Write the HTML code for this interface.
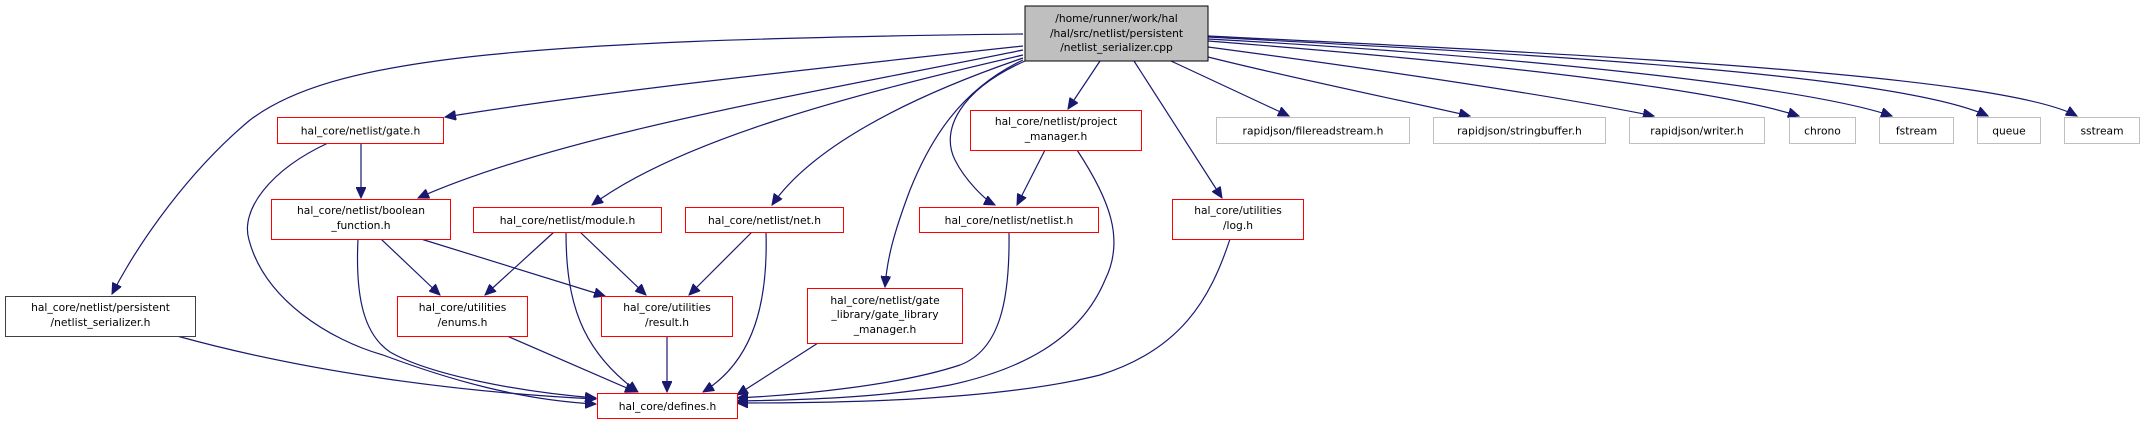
<!DOCTYPE html>
<html><head><meta charset="utf-8"><style>
html,body{margin:0;padding:0;background:#fff}
svg{display:block}
text{font-family:"DejaVu Sans","Liberation Sans",sans-serif;font-size:10.7px;fill:#000;text-anchor:middle}
.e{fill:none;stroke:#191970;stroke-width:1.2}
.r{fill:#fff;stroke:#ff0000;stroke-width:1}
.g{fill:#fff;stroke:#bfbfbf;stroke-width:1}
.k{fill:#fff;stroke:#404040;stroke-width:1}
</style></head><body>
<svg width="2145" height="424" viewBox="0 0 2145 424" xmlns="http://www.w3.org/2000/svg">
<defs>
<marker id="a" markerUnits="userSpaceOnUse" markerWidth="12" markerHeight="10" refX="11" refY="5" orient="auto">
<path d="M0,0 L11,5 L0,10 Z" fill="#191970" stroke="#191970"/>
</marker>
</defs>
<g marker-end="url(#a)">
<path class="e" d="M1023,34 C500,40 330,60 250,120 C190,170 140,240 112,294"/>
<path class="e" d="M1023,46 C800,70 600,92 445,117"/>
<path class="e" d="M1023,50 C800,95 560,135 418,198"/>
<path class="e" d="M1023,55 C850,95 680,140 592,205"/>
<path class="e" d="M1023,58 C900,100 810,150 772,205"/>
<path class="e" d="M1023,60 C960,90 930,140 910,190 C893,235 887,260 885,287"/>
<path class="e" d="M1025,61 C960,90 940,130 955,160 C965,180 985,200 995,205"/>
<path class="e" d="M1100,61 L1068,109"/>
<path class="e" d="M1134,61 L1222,198"/>
<path class="e" d="M1171,61 L1289,116"/>
<path class="e" d="M1208,57 C1300,80 1400,100 1470,116"/>
<path class="e" d="M1208,47 C1380,70 1550,95 1654,116"/>
<path class="e" d="M1208,41 C1450,60 1700,85 1799,116"/>
<path class="e" d="M1208,39 C1500,55 1800,85 1892,116"/>
<path class="e" d="M1208,37 C1550,55 1900,75 1988,116"/>
<path class="e" d="M1208,36 C1600,55 2000,75 2077,116"/>
<path class="e" d="M361,143 L361,198"/>
<path class="e" d="M328,143 C270,170 240,210 249,240 C265,300 330,340 383,355 C450,380 520,400 596,404"/>
<path class="e" d="M381,239 L440,295"/>
<path class="e" d="M421,239 L605,296"/>
<path class="e" d="M358,239 C355,300 365,335 390,352 C430,375 520,392 596,398"/>
<path class="e" d="M554,232 L485,295"/>
<path class="e" d="M580,232 L646,295"/>
<path class="e" d="M566,232 C566,300 580,350 638,392"/>
<path class="e" d="M752,232 L689,295"/>
<path class="e" d="M766,232 C768,300 755,360 703,392"/>
<path class="e" d="M177,336 C300,370 450,392 596,399"/>
<path class="e" d="M507,336 L636,392"/>
<path class="e" d="M667,336 L667,392"/>
<path class="e" d="M818,343 L737,395"/>
<path class="e" d="M1009,232 C1010,300 1000,350 960,365 C900,385 800,395 737,398"/>
<path class="e" d="M1045,150 L1017,205"/>
<path class="e" d="M1077,150 C1110,200 1125,240 1105,280 C1080,340 1020,370 950,385 C880,398 800,400 737,401"/>
<path class="e" d="M1230,239 C1210,300 1180,350 1100,375 C1000,400 850,403 737,403"/>
</g>
<!-- nodes -->
<rect x="1025" y="6" width="183" height="55" fill="#bfbfbf" stroke="#000"/>
<text x="1116.5" y="22">/home/runner/work/hal</text>
<text x="1116.5" y="37">/hal/src/netlist/persistent</text>
<text x="1116.5" y="51">/netlist_serializer.cpp</text>

<rect class="r" x="277.5" y="117.5" width="166" height="26"/><text x="360.5" y="134.5">hal_core/netlist/gate.h</text>
<rect class="r" x="271.5" y="199.5" width="179" height="40"/><text x="361" y="214">hal_core/netlist/boolean</text><text x="361" y="229">_function.h</text>
<rect class="r" x="473.5" y="207.5" width="188" height="25"/><text x="567.5" y="224">hal_core/netlist/module.h</text>
<rect class="r" x="685.5" y="207.5" width="158" height="25"/><text x="764.5" y="224">hal_core/netlist/net.h</text>
<rect class="k" x="5.5" y="296.5" width="190" height="40"/><text x="100.5" y="311">hal_core/netlist/persistent</text><text x="100.5" y="326">/netlist_serializer.h</text>
<rect class="r" x="397.5" y="296.5" width="130" height="40"/><text x="462.5" y="311">hal_core/utilities</text><text x="462.5" y="326">/enums.h</text>
<rect class="r" x="601.5" y="296.5" width="131" height="40"/><text x="667" y="311">hal_core/utilities</text><text x="667" y="326">/result.h</text>
<rect class="r" x="597.5" y="393.5" width="140" height="25"/><text x="667.5" y="410">hal_core/defines.h</text>
<rect class="r" x="970.5" y="110.5" width="171" height="40"/><text x="1056" y="125">hal_core/netlist/project</text><text x="1056" y="140">_manager.h</text>
<rect class="r" x="919.5" y="207.5" width="179" height="25"/><text x="1009" y="224">hal_core/netlist/netlist.h</text>
<rect class="r" x="807.5" y="288.5" width="155" height="55"/><text x="885" y="304">hal_core/netlist/gate</text><text x="885" y="318">_library/gate_library</text><text x="885" y="333">_manager.h</text>
<rect class="r" x="1172.5" y="199.5" width="131" height="40"/><text x="1238" y="214">hal_core/utilities</text><text x="1238" y="229">/log.h</text>
<rect class="g" x="1216.5" y="117.5" width="193" height="26"/><text x="1313" y="134.5">rapidjson/filereadstream.h</text>
<rect class="g" x="1433.5" y="117.5" width="172" height="26"/><text x="1519.5" y="134.5">rapidjson/stringbuffer.h</text>
<rect class="g" x="1629.5" y="117.5" width="135" height="26"/><text x="1697" y="134.5">rapidjson/writer.h</text>
<rect class="g" x="1789.5" y="117.5" width="66" height="26"/><text x="1822.5" y="134.5">chrono</text>
<rect class="g" x="1879.5" y="117.5" width="74" height="26"/><text x="1916.5" y="134.5">fstream</text>
<rect class="g" x="1977.5" y="117.5" width="63" height="26"/><text x="2009" y="134.5">queue</text>
<rect class="g" x="2064.5" y="117.5" width="75" height="26"/><text x="2102" y="134.5">sstream</text>
</svg>
</body></html>
